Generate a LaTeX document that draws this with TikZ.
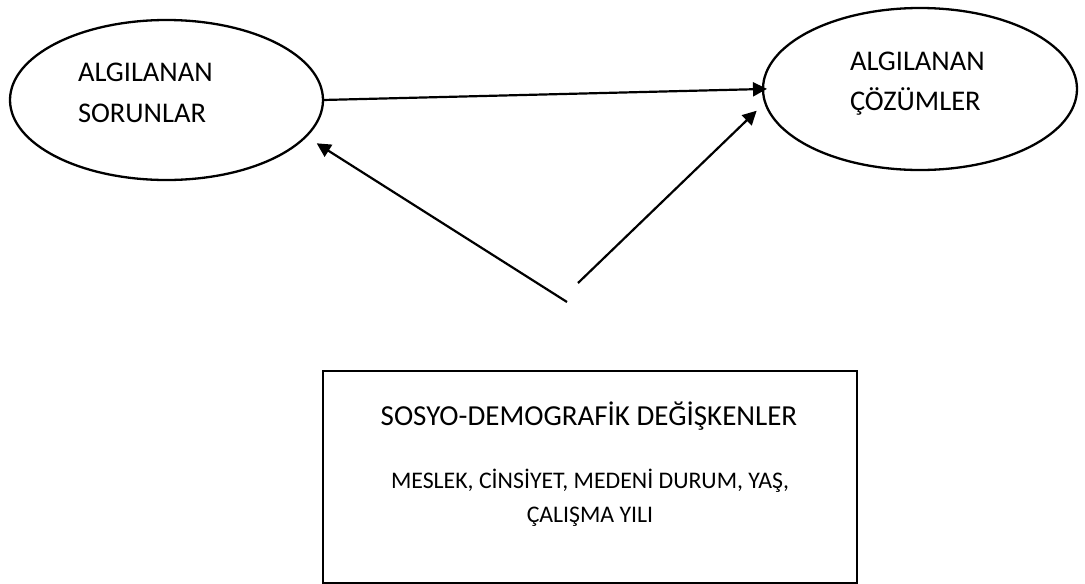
\documentclass[tikz,border=0pt]{standalone}
\usepackage{fontspec}
\setmainfont{Carlito}
\usetikzlibrary{arrows.meta,shapes.geometric}
\begin{document}
\begin{tikzpicture}[x=1pt,y=-1pt,
  oval/.style={draw,ellipse,line width=2.3pt,inner sep=0pt,outer sep=0pt},
  frame/.style={draw,rectangle,line width=2.6pt,inner sep=0pt,outer sep=0pt},
  big/.style={inner sep=0pt,outer sep=0pt,font=\fontsize{28.5}{34}\selectfont},
  title/.style={inner sep=0pt,outer sep=0pt,font=\fontsize{29}{34}\selectfont},
  small/.style={inner sep=0pt,outer sep=0pt,font=\fontsize{23.8}{28}\selectfont},
  arr/.style={line width=2.2pt,-{Triangle[length=14pt,width=14pt]}}]
\useasboundingbox (0,0) rectangle (1085,584);
\fill[white] (0,0) rectangle (1085,584);
% ellipses
\node[oval,minimum width=313pt,minimum height=160pt] (L) at (166.5,100) {};
\node[oval,minimum width=314pt,minimum height=162pt] (R) at (920,89) {};
% ellipse texts
\node[big,anchor=base west] (ls1) at (78,81) {ALGILANAN};
\node[big,anchor=base west] (ls2) at (78,122) {SORUNLAR};
\node[big,anchor=base west] (rs1) at (850,70.5) {ALGILANAN};
\node[big,anchor=base west] (rs2) at (850,110.5) {ÇÖZÜMLER};
% box
\node[frame,minimum width=534pt,minimum height=212pt] (B) at (590,477) {};
\node[title,anchor=base] (bt) at (589,425) {SOSYO-DEMOGRAFİK DEĞİŞKENLER};
\node[small,anchor=base] (b2) at (590,488) {MESLEK, CİNSİYET, MEDENİ DURUM, YAŞ,};
\node[small,anchor=base] (b3) at (590,522) {ÇALIŞMA YILI};
% connector ends
\coordinate (t1) at (567,302);
\coordinate (h1) at (316.7,143.3);
\coordinate (t2) at (578,283);
\coordinate (h2) at (756.7,110.7);
% arrows
\draw[arr,shorten >=-4pt] (L.east) -- (R.west);
\draw[arr] (t1) -- (h1);
\draw[arr] (t2) -- (h2);
\end{tikzpicture}
\end{document}
